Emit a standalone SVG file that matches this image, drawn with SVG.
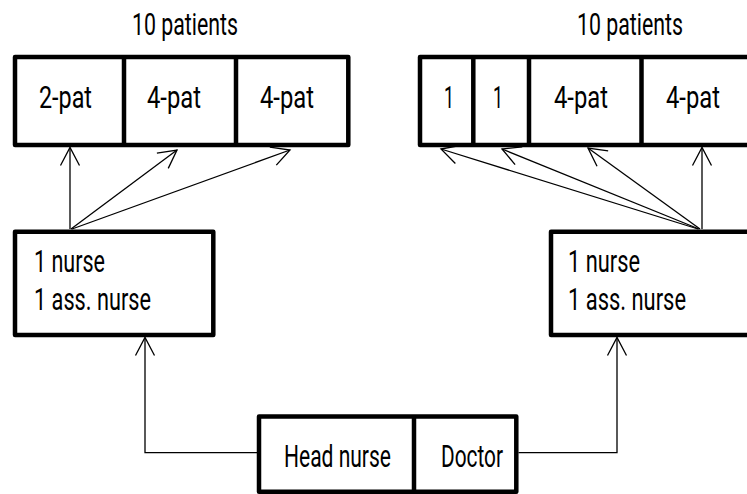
<svg xmlns="http://www.w3.org/2000/svg" width="747" height="494" viewBox="0 0 747 494">
  <style>
    .box { fill: #fff; stroke: #000; stroke-width: 4.5; stroke-linejoin: round; }
    .div { stroke: #000; stroke-width: 4.5; }
    .lbl { font-family: Roboto, "Liberation Sans", sans-serif; font-size: 31px; fill: #000; }
    .con { fill: none; stroke: #000; stroke-width: 1.3; }
  </style>
  <defs>
    <marker id="open" markerUnits="userSpaceOnUse" viewBox="-20 -11 22 22" refX="0" refY="0" markerWidth="22" markerHeight="22" orient="auto">
      <path d="M -18 -9.5 L 0 0 L -18 9.5" fill="none" stroke="#000" stroke-width="1.3"/>
    </marker>
  </defs>

  <!-- ward A rooms -->
  <g id="wardA">
    <text class="lbl" x="132" y="35" textLength="106" lengthAdjust="spacingAndGlyphs">10 patients</text>
    <rect class="box" x="15" y="57" width="333.3" height="88"/>
    <line class="div" x1="124" y1="57" x2="124" y2="145"/>
    <line class="div" x1="236" y1="57" x2="236" y2="145"/>
    <text class="lbl" x="39" y="108" textLength="53" lengthAdjust="spacingAndGlyphs">2-pat</text>
    <text class="lbl" x="147" y="108" textLength="54" lengthAdjust="spacingAndGlyphs">4-pat</text>
    <text class="lbl" x="260" y="108" textLength="54" lengthAdjust="spacingAndGlyphs">4-pat</text>
  </g>

  <!-- ward B rooms -->
  <g id="wardB">
    <text class="lbl" x="577" y="35" textLength="106" lengthAdjust="spacingAndGlyphs">10 patients</text>
    <rect class="box" x="420" y="57" width="340" height="88"/>
    <line class="div" x1="473.3" y1="57" x2="473.3" y2="145"/>
    <line class="div" x1="529" y1="57" x2="529" y2="145"/>
    <line class="div" x1="641.5" y1="57" x2="641.5" y2="145"/>
    <text class="lbl" x="444" y="108" textLength="10" lengthAdjust="spacingAndGlyphs">1</text>
    <text class="lbl" x="493" y="108" textLength="10" lengthAdjust="spacingAndGlyphs">1</text>
    <text class="lbl" x="554" y="108" textLength="54" lengthAdjust="spacingAndGlyphs">4-pat</text>
    <text class="lbl" x="666" y="108" textLength="54" lengthAdjust="spacingAndGlyphs">4-pat</text>
  </g>

  <!-- ward A staff -->
  <g id="staffA">
    <rect class="box" x="15" y="231.7" width="198.3" height="103.3"/>
    <text class="lbl" x="34" y="272" textLength="71" lengthAdjust="spacingAndGlyphs">1 nurse</text>
    <text class="lbl" x="34" y="310" textLength="117" lengthAdjust="spacingAndGlyphs">1 ass. nurse</text>
  </g>

  <!-- ward B staff -->
  <g id="staffB">
    <rect class="box" x="551" y="231.7" width="200" height="103.3"/>
    <text class="lbl" x="568" y="272" textLength="72" lengthAdjust="spacingAndGlyphs">1 nurse</text>
    <text class="lbl" x="568" y="310" textLength="118" lengthAdjust="spacingAndGlyphs">1 ass. nurse</text>
  </g>

  <!-- management -->
  <g id="management">
    <rect class="box" x="259" y="416.5" width="257.3" height="75.2"/>
    <line class="div" x1="414" y1="416.5" x2="414" y2="491.7"/>
    <text class="lbl" x="284" y="467" textLength="107" lengthAdjust="spacingAndGlyphs">Head nurse</text>
    <text class="lbl" x="441" y="467" textLength="62" lengthAdjust="spacingAndGlyphs">Doctor</text>
  </g>

  <g id="connectors">
    <path class="con" d="M 257 452.7 H 145 V 337.5" marker-end="url(#open)"/>
    <path class="con" d="M 518.5 452.7 H 617 V 337.5" marker-end="url(#open)"/>
    <path class="con" d="M 70 229 V 147.5" marker-end="url(#open)"/>
    <path class="con" d="M 71 229 L 177 150" marker-end="url(#open)"/>
    <path class="con" d="M 72 229 L 290 150" marker-end="url(#open)"/>
    <path class="con" d="M 702 229 V 147.5" marker-end="url(#open)"/>
    <path class="con" d="M 700 229 L 588 148" marker-end="url(#open)"/>
    <path class="con" d="M 699 229 L 502 149" marker-end="url(#open)"/>
    <path class="con" d="M 698 229 L 441 149" marker-end="url(#open)"/>
  </g>
</svg>
